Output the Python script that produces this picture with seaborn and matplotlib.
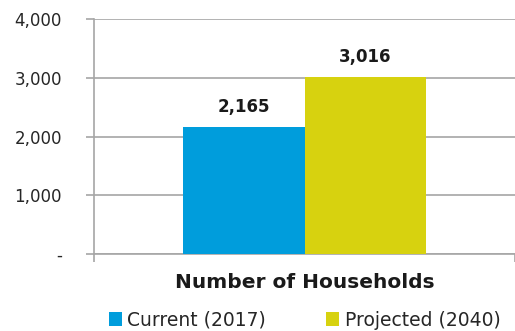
import matplotlib
matplotlib.use("Agg")
import matplotlib.pyplot as plt
import pandas as pd
import seaborn as sns

# Household counts by scenario
category = ["Number of Households"]
series = ["Current (2017)", "Projected (2040)"]
values = [2165, 3016]
y_ticks = [0, 1000, 2000, 3000, 4000]
y_tick_labels = ["-", "1,000", "2,000", "3,000", "4,000"]
colors = ["#009DDC", "#D7D20F"]

df = pd.DataFrame({
    "category": category * len(series),
    "series": series,
    "value": values,
})

sns.set_theme(style="white")
plt.rcParams["font.family"] = ["DejaVu Sans"]

fig = plt.figure(figsize=(5.15, 3.31), dpi=100)
ax = fig.add_axes([94 / 515, 1 - 254 / 331, 1 - 94 / 515, (254 - 19) / 331])

sns.barplot(data=df, x="category", y="value", hue="series",
            palette=colors, width=0.575, saturation=1, ax=ax,
            legend=True, zorder=3, linewidth=0, edgecolor="none")

grid_color = "#A6A6A6"
ax.set_ylim(0, 4000)
ax.set_xlim(-0.5, 0.5)
ax.set_yticks(y_ticks)
ax.set_yticklabels(y_tick_labels, fontsize=12, color="#262626")
for y in y_ticks:
    ax.axhline(y, color=grid_color, lw=1.2, zorder=1)

ax.set_xticks([-0.5, 0.5])
ax.set_xticklabels(["", ""])
ax.tick_params(axis="both", which="both", direction="out", length=6,
               width=1.2, color=grid_color, left=True, bottom=True)
ax.tick_params(axis="y", pad=17)

for side in ["top", "right"]:
    ax.spines[side].set_visible(False)
for side in ["left", "bottom"]:
    ax.spines[side].set_color(grid_color)
    ax.spines[side].set_linewidth(1.2)

for container in ax.containers:
    ax.bar_label(container, labels=[f"{v:,.0f}" for v in container.datavalues],
                 padding=8, fontsize=12, fontweight="bold", color="#1a1a1a")

ax.set_ylabel("")
ax.set_xlabel("Number of Households", fontsize=14.5, fontweight="bold",
              color="#1a1a1a", labelpad=4)

ax.legend(loc="center", bbox_to_anchor=(0.5, -66 / 235), ncol=2,
          frameon=False, fontsize=13.5, handlelength=0.7, handleheight=0.7,
          handletextpad=0.3, columnspacing=3.2, borderaxespad=0,
          borderpad=0)

fig.savefig("out.png", dpi=100)
